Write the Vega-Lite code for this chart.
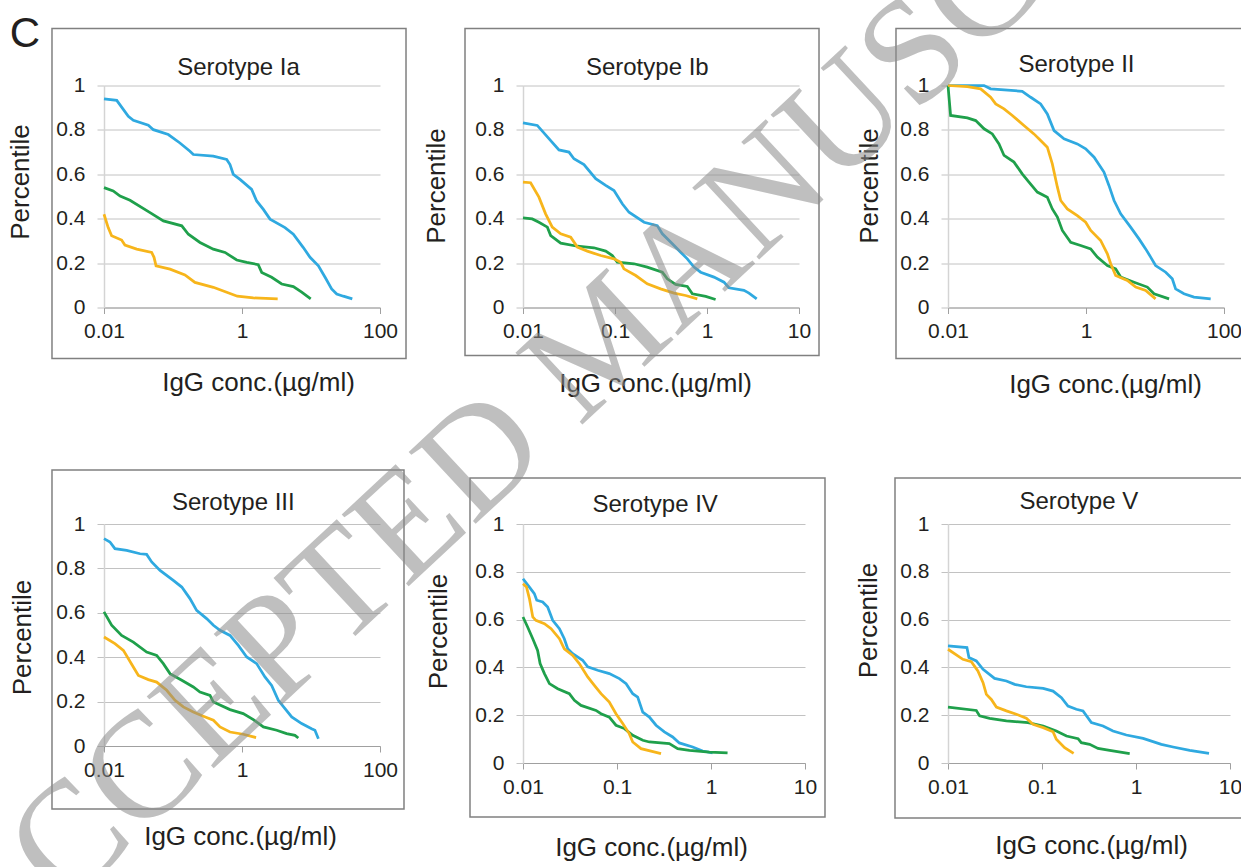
{
"$schema": "https://vega.github.io/schema/vega-lite/v6.json",
"autosize": {"type": "none"},
"padding": {"left": 104, "top": 77, "right": 1137, "bottom": 790},
"background": "white",
"datasets": {
"Ia": [
{"series":"A","conc":0.01,"pct":0.94},{"series":"A","conc":0.0153,"pct":0.933},{"series":"A","conc":0.0225,"pct":0.861},{"series":"A","conc":0.0266,"pct":0.843},{"series":"A","conc":0.0439,"pct":0.821},{"series":"A","conc":0.0519,"pct":0.801},{"series":"A","conc":0.0855,"pct":0.779},{"series":"A","conc":0.126,"pct":0.741},{"series":"A","conc":0.176,"pct":0.704},{"series":"A","conc":0.197,"pct":0.689},{"series":"A","conc":0.384,"pct":0.682},{"series":"A","conc":0.6,"pct":0.667},{"series":"A","conc":0.67,"pct":0.644},{"series":"A","conc":0.748,"pct":0.6},{"series":"A","conc":0.935,"pct":0.577},{"series":"A","conc":1.38,"pct":0.532},{"series":"A","conc":1.63,"pct":0.48},{"series":"A","conc":2.04,"pct":0.442},{"series":"A","conc":2.55,"pct":0.398},{"series":"A","conc":4.2,"pct":0.36},{"series":"A","conc":5.55,"pct":0.33},{"series":"A","conc":7.74,"pct":0.27},{"series":"A","conc":9.68,"pct":0.226},{"series":"A","conc":12.8,"pct":0.188},{"series":"A","conc":16,"pct":0.136},{"series":"A","conc":19.9,"pct":0.084},{"series":"A","conc":23.6,"pct":0.061},{"series":"A","conc":29.4,"pct":0.051},{"series":"A","conc":39.7,"pct":0.039},
{"series":"B","conc":0.01,"pct":0.54},{"series":"B","conc":0.0136,"pct":0.525},{"series":"B","conc":0.0171,"pct":0.502},{"series":"B","conc":0.0238,"pct":0.483},{"series":"B","conc":0.0465,"pct":0.427},{"series":"B","conc":0.0725,"pct":0.39},{"series":"B","conc":0.134,"pct":0.368},{"series":"B","conc":0.167,"pct":0.33},{"series":"B","conc":0.246,"pct":0.293},{"series":"B","conc":0.384,"pct":0.263},{"series":"B","conc":0.568,"pct":0.248},{"series":"B","conc":0.838,"pct":0.214},{"series":"B","conc":1.17,"pct":0.203},{"series":"B","conc":1.72,"pct":0.193},{"series":"B","conc":1.93,"pct":0.158},{"series":"B","conc":2.69,"pct":0.136},{"series":"B","conc":3.76,"pct":0.106},{"series":"B","conc":5.55,"pct":0.094},{"series":"B","conc":7.33,"pct":0.069},{"series":"B","conc":9.91,"pct":0.039},
{"series":"C","conc":0.01,"pct":0.42},{"series":"C","conc":0.0115,"pct":0.36},{"series":"C","conc":0.0129,"pct":0.323},{"series":"C","conc":0.018,"pct":0.304},{"series":"C","conc":0.0201,"pct":0.281},{"series":"C","conc":0.0298,"pct":0.263},{"series":"C","conc":0.0491,"pct":0.248},{"series":"C","conc":0.0531,"pct":0.226},{"series":"C","conc":0.0568,"pct":0.188},{"series":"C","conc":0.0906,"pct":0.173},{"series":"C","conc":0.149,"pct":0.147},{"series":"C","conc":0.208,"pct":0.113},{"series":"C","conc":0.384,"pct":0.091},{"series":"C","conc":0.6,"pct":0.069},{"series":"C","conc":0.855,"pct":0.051},{"series":"C","conc":1.46,"pct":0.043},{"series":"C","conc":3.29,"pct":0.039}
],
"Ib": [
{"series":"A","conc":0.01,"pct":0.832},{"series":"A","conc":0.0143,"pct":0.82},{"series":"A","conc":0.02,"pct":0.752},{"series":"A","conc":0.0246,"pct":0.71},{"series":"A","conc":0.0316,"pct":0.7},{"series":"A","conc":0.0358,"pct":0.67},{"series":"A","conc":0.046,"pct":0.644},{"series":"A","conc":0.0617,"pct":0.58},{"series":"A","conc":0.0792,"pct":0.55},{"series":"A","conc":0.0975,"pct":0.527},{"series":"A","conc":0.12,"pct":0.467},{"series":"A","conc":0.142,"pct":0.429},{"series":"A","conc":0.207,"pct":0.384},{"series":"A","conc":0.288,"pct":0.369},{"series":"A","conc":0.327,"pct":0.332},{"series":"A","conc":0.42,"pct":0.287},{"series":"A","conc":0.517,"pct":0.249},{"series":"A","conc":0.611,"pct":0.219},{"series":"A","conc":0.722,"pct":0.182},{"series":"A","conc":0.853,"pct":0.159},{"series":"A","conc":1.19,"pct":0.137},{"series":"A","conc":1.53,"pct":0.114},{"series":"A","conc":1.73,"pct":0.089},{"series":"A","conc":2.52,"pct":0.077},{"series":"A","conc":2.86,"pct":0.065},{"series":"A","conc":3.47,"pct":0.039},
{"series":"B","conc":0.01,"pct":0.404},{"series":"B","conc":0.0126,"pct":0.399},{"series":"B","conc":0.0149,"pct":0.384},{"series":"B","conc":0.0184,"pct":0.362},{"series":"B","conc":0.02,"pct":0.324},{"series":"B","conc":0.0257,"pct":0.29},{"series":"B","conc":0.039,"pct":0.276},{"series":"B","conc":0.059,"pct":0.269},{"series":"B","conc":0.0792,"pct":0.254},{"series":"B","conc":0.0935,"pct":0.234},{"series":"B","conc":0.106,"pct":0.204},{"series":"B","conc":0.161,"pct":0.197},{"series":"B","conc":0.224,"pct":0.182},{"series":"B","conc":0.327,"pct":0.159},{"series":"B","conc":0.37,"pct":0.129},{"series":"B","conc":0.456,"pct":0.104},{"series":"B","conc":0.611,"pct":0.095},{"series":"B","conc":0.693,"pct":0.062},{"series":"B","conc":0.968,"pct":0.05},{"series":"B","conc":1.24,"pct":0.036},
{"series":"C","conc":0.01,"pct":0.565},{"series":"C","conc":0.0121,"pct":0.562},{"series":"C","conc":0.0149,"pct":0.497},{"series":"C","conc":0.0176,"pct":0.422},{"series":"C","conc":0.0208,"pct":0.362},{"series":"C","conc":0.0257,"pct":0.332},{"series":"C","conc":0.033,"pct":0.317},{"series":"C","conc":0.039,"pct":0.272},{"series":"C","conc":0.05,"pct":0.254},{"series":"C","conc":0.0698,"pct":0.234},{"series":"C","conc":0.0975,"pct":0.219},{"series":"C","conc":0.115,"pct":0.204},{"series":"C","conc":0.125,"pct":0.174},{"series":"C","conc":0.168,"pct":0.144},{"series":"C","conc":0.224,"pct":0.107},{"series":"C","conc":0.313,"pct":0.084},{"series":"C","conc":0.438,"pct":0.065},{"series":"C","conc":0.586,"pct":0.054},{"series":"C","conc":0.785,"pct":0.039}
],
"II": [
{"series":"A","conc":0.01,"pct":1},{"series":"A","conc":0.0333,"pct":1},{"series":"A","conc":0.0415,"pct":0.985},{"series":"A","conc":0.119,"pct":0.974},{"series":"A","conc":0.158,"pct":0.947},{"series":"A","conc":0.22,"pct":0.917},{"series":"A","conc":0.275,"pct":0.872},{"series":"A","conc":0.344,"pct":0.797},{"series":"A","conc":0.48,"pct":0.76},{"series":"A","conc":0.748,"pct":0.737},{"series":"A","conc":0.989,"pct":0.715},{"series":"A","conc":1.31,"pct":0.677},{"series":"A","conc":1.82,"pct":0.61},{"series":"A","conc":2.15,"pct":0.55},{"series":"A","conc":2.55,"pct":0.482},{"series":"A","conc":3.18,"pct":0.422},{"series":"A","conc":4.43,"pct":0.362},{"series":"A","conc":5.86,"pct":0.309},{"series":"A","conc":7.32,"pct":0.264},{"series":"A","conc":8.65,"pct":0.227},{"series":"A","conc":10.2,"pct":0.189},{"series":"A","conc":14.3,"pct":0.159},{"series":"A","conc":17.8,"pct":0.129},{"series":"A","conc":19.9,"pct":0.084},{"series":"A","conc":26.3,"pct":0.062},{"series":"A","conc":36.7,"pct":0.047},{"series":"A","conc":64.1,"pct":0.039},
{"series":"B","conc":0.01,"pct":1},{"series":"B","conc":0.0109,"pct":0.865},{"series":"B","conc":0.0191,"pct":0.854},{"series":"B","conc":0.0252,"pct":0.842},{"series":"B","conc":0.0333,"pct":0.805},{"series":"B","conc":0.0439,"pct":0.782},{"series":"B","conc":0.0548,"pct":0.737},{"series":"B","conc":0.0649,"pct":0.685},{"series":"B","conc":0.0905,"pct":0.655},{"series":"B","conc":0.119,"pct":0.602},{"series":"B","conc":0.149,"pct":0.565},{"series":"B","conc":0.197,"pct":0.52},{"series":"B","conc":0.275,"pct":0.497},{"series":"B","conc":0.325,"pct":0.444},{"series":"B","conc":0.385,"pct":0.407},{"series":"B","conc":0.454,"pct":0.347},{"series":"B","conc":0.6,"pct":0.294},{"series":"B","conc":0.837,"pct":0.279},{"series":"B","conc":1.17,"pct":0.264},{"series":"B","conc":1.46,"pct":0.227},{"series":"B","conc":2.04,"pct":0.189},{"series":"B","conc":2.69,"pct":0.174},{"series":"B","conc":3.18,"pct":0.137},{"series":"B","conc":4.97,"pct":0.114},{"series":"B","conc":7.74,"pct":0.092},{"series":"B","conc":9.68,"pct":0.062},{"series":"B","conc":16,"pct":0.039},
{"series":"C","conc":0.01,"pct":1},{"series":"C","conc":0.0191,"pct":0.995},{"series":"C","conc":0.0297,"pct":0.985},{"series":"C","conc":0.0415,"pct":0.947},{"series":"C","conc":0.0491,"pct":0.917},{"series":"C","conc":0.0649,"pct":0.895},{"series":"C","conc":0.0855,"pct":0.865},{"series":"C","conc":0.126,"pct":0.82},{"series":"C","conc":0.176,"pct":0.782},{"series":"C","conc":0.22,"pct":0.752},{"series":"C","conc":0.275,"pct":0.722},{"series":"C","conc":0.325,"pct":0.647},{"series":"C","conc":0.385,"pct":0.542},{"series":"C","conc":0.43,"pct":0.482},{"series":"C","conc":0.536,"pct":0.444},{"series":"C","conc":0.748,"pct":0.414},{"series":"C","conc":0.989,"pct":0.384},{"series":"C","conc":1.17,"pct":0.347},{"series":"C","conc":1.63,"pct":0.302},{"series":"C","conc":2.04,"pct":0.242},{"series":"C","conc":2.28,"pct":0.197},{"series":"C","conc":2.69,"pct":0.144},{"series":"C","conc":3.97,"pct":0.122},{"series":"C","conc":5.25,"pct":0.092},{"series":"C","conc":7.32,"pct":0.077},{"series":"C","conc":10.2,"pct":0.039}
],
"III": [
{"series":"A","conc":0.01,"pct":0.934},{"series":"A","conc":0.0122,"pct":0.919},{"series":"A","conc":0.0144,"pct":0.889},{"series":"A","conc":0.0213,"pct":0.881},{"series":"A","conc":0.0333,"pct":0.866},{"series":"A","conc":0.0415,"pct":0.863},{"series":"A","conc":0.0491,"pct":0.829},{"series":"A","conc":0.0649,"pct":0.791},{"series":"A","conc":0.101,"pct":0.746},{"series":"A","conc":0.134,"pct":0.716},{"series":"A","conc":0.176,"pct":0.664},{"series":"A","conc":0.22,"pct":0.611},{"series":"A","conc":0.307,"pct":0.574},{"series":"A","conc":0.385,"pct":0.544},{"series":"A","conc":0.48,"pct":0.521},{"series":"A","conc":0.67,"pct":0.498},{"series":"A","conc":0.885,"pct":0.453},{"series":"A","conc":1.17,"pct":0.401},{"series":"A","conc":1.63,"pct":0.371},{"series":"A","conc":2.15,"pct":0.311},{"series":"A","conc":2.69,"pct":0.273},{"series":"A","conc":3.36,"pct":0.206},{"series":"A","conc":4.2,"pct":0.168},{"series":"A","conc":5.25,"pct":0.131},{"series":"A","conc":7.32,"pct":0.101},{"series":"A","conc":10.2,"pct":0.078},{"series":"A","conc":11.4,"pct":0.071},{"series":"A","conc":12.8,"pct":0.033},
{"series":"B","conc":0.01,"pct":0.604},{"series":"B","conc":0.0129,"pct":0.544},{"series":"B","conc":0.018,"pct":0.498},{"series":"B","conc":0.0266,"pct":0.468},{"series":"B","conc":0.0415,"pct":0.423},{"series":"B","conc":0.058,"pct":0.408},{"series":"B","conc":0.0724,"pct":0.371},{"series":"B","conc":0.0905,"pct":0.326},{"series":"B","conc":0.134,"pct":0.296},{"series":"B","conc":0.197,"pct":0.266},{"series":"B","conc":0.246,"pct":0.243},{"series":"B","conc":0.344,"pct":0.228},{"series":"B","conc":0.385,"pct":0.198},{"series":"B","conc":0.67,"pct":0.164},{"series":"B","conc":1.04,"pct":0.146},{"series":"B","conc":1.46,"pct":0.119},{"series":"B","conc":2.04,"pct":0.086},{"series":"B","conc":3.18,"pct":0.071},{"series":"B","conc":4.43,"pct":0.056},{"series":"B","conc":5.86,"pct":0.048},{"series":"B","conc":6.55,"pct":0.036},
{"series":"C","conc":0.01,"pct":0.491},{"series":"C","conc":0.0144,"pct":0.461},{"series":"C","conc":0.0191,"pct":0.431},{"series":"C","conc":0.0266,"pct":0.356},{"series":"C","conc":0.0315,"pct":0.318},{"series":"C","conc":0.0439,"pct":0.299},{"series":"C","conc":0.058,"pct":0.288},{"series":"C","conc":0.081,"pct":0.251},{"series":"C","conc":0.107,"pct":0.206},{"series":"C","conc":0.141,"pct":0.176},{"series":"C","conc":0.197,"pct":0.153},{"series":"C","conc":0.275,"pct":0.134},{"series":"C","conc":0.385,"pct":0.116},{"series":"C","conc":0.48,"pct":0.086},{"series":"C","conc":0.67,"pct":0.063},{"series":"C","conc":1.04,"pct":0.053},{"series":"C","conc":1.6,"pct":0.038}
],
"IV": [
{"series":"A","conc":0.01,"pct":0.771},{"series":"A","conc":0.0117,"pct":0.736},{"series":"A","conc":0.0132,"pct":0.709},{"series":"A","conc":0.014,"pct":0.681},{"series":"A","conc":0.0162,"pct":0.674},{"series":"A","conc":0.0183,"pct":0.653},{"series":"A","conc":0.0207,"pct":0.597},{"series":"A","conc":0.0244,"pct":0.562},{"series":"A","conc":0.0275,"pct":0.52},{"series":"A","conc":0.0299,"pct":0.478},{"series":"A","conc":0.0338,"pct":0.457},{"series":"A","conc":0.0431,"pct":0.43},{"series":"A","conc":0.0488,"pct":0.402},{"series":"A","conc":0.0622,"pct":0.388},{"series":"A","conc":0.0828,"pct":0.374},{"series":"A","conc":0.106,"pct":0.353},{"series":"A","conc":0.125,"pct":0.332},{"series":"A","conc":0.147,"pct":0.29},{"series":"A","conc":0.166,"pct":0.276},{"series":"A","conc":0.188,"pct":0.213},{"series":"A","conc":0.221,"pct":0.192},{"series":"A","conc":0.26,"pct":0.158},{"series":"A","conc":0.319,"pct":0.13},{"series":"A","conc":0.391,"pct":0.109},{"series":"A","conc":0.46,"pct":0.084},{"series":"A","conc":0.638,"pct":0.067},{"series":"A","conc":0.815,"pct":0.05},{"series":"A","conc":1.04,"pct":0.042},
{"series":"B","conc":0.01,"pct":0.611},{"series":"B","conc":0.0112,"pct":0.569},{"series":"B","conc":0.0127,"pct":0.52},{"series":"B","conc":0.0143,"pct":0.471},{"series":"B","conc":0.0152,"pct":0.416},{"series":"B","conc":0.0169,"pct":0.374},{"series":"B","conc":0.0191,"pct":0.332},{"series":"B","conc":0.0234,"pct":0.311},{"series":"B","conc":0.0311,"pct":0.29},{"series":"B","conc":0.0352,"pct":0.262},{"series":"B","conc":0.0414,"pct":0.241},{"series":"B","conc":0.0598,"pct":0.22},{"series":"B","conc":0.0676,"pct":0.206},{"series":"B","conc":0.0828,"pct":0.192},{"series":"B","conc":0.0975,"pct":0.158},{"series":"B","conc":0.12,"pct":0.144},{"series":"B","conc":0.147,"pct":0.116},{"series":"B","conc":0.188,"pct":0.095},{"series":"B","conc":0.221,"pct":0.088},{"series":"B","conc":0.36,"pct":0.081},{"series":"B","conc":0.442,"pct":0.06},{"series":"B","conc":0.589,"pct":0.053},{"series":"B","conc":0.959,"pct":0.046},{"series":"B","conc":1.5,"pct":0.042},
{"series":"C","conc":0.01,"pct":0.75},{"series":"C","conc":0.0109,"pct":0.736},{"series":"C","conc":0.0117,"pct":0.688},{"series":"C","conc":0.0127,"pct":0.611},{"series":"C","conc":0.0137,"pct":0.597},{"series":"C","conc":0.0169,"pct":0.583},{"series":"C","conc":0.0199,"pct":0.562},{"series":"C","conc":0.0244,"pct":0.52},{"series":"C","conc":0.0275,"pct":0.478},{"series":"C","conc":0.0338,"pct":0.45},{"series":"C","conc":0.0397,"pct":0.416},{"series":"C","conc":0.0488,"pct":0.36},{"series":"C","conc":0.0574,"pct":0.325},{"series":"C","conc":0.0676,"pct":0.29},{"series":"C","conc":0.0828,"pct":0.255},{"series":"C","conc":0.0975,"pct":0.206},{"series":"C","conc":0.115,"pct":0.165},{"series":"C","conc":0.135,"pct":0.123},{"series":"C","conc":0.147,"pct":0.088},{"series":"C","conc":0.18,"pct":0.06},{"series":"C","conc":0.23,"pct":0.05},{"series":"C","conc":0.294,"pct":0.039}
],
"V": [
{"series":"A","conc":0.01,"pct":0.49},{"series":"A","conc":0.0159,"pct":0.483},{"series":"A","conc":0.0167,"pct":0.441},{"series":"A","conc":0.02,"pct":0.427},{"series":"A","conc":0.0236,"pct":0.392},{"series":"A","conc":0.0313,"pct":0.354},{"series":"A","conc":0.0418,"pct":0.343},{"series":"A","conc":0.0512,"pct":0.329},{"series":"A","conc":0.0681,"pct":0.319},{"series":"A","conc":0.103,"pct":0.312},{"series":"A","conc":0.131,"pct":0.301},{"series":"A","conc":0.161,"pct":0.273},{"series":"A","conc":0.189,"pct":0.238},{"series":"A","conc":0.232,"pct":0.225},{"series":"A","conc":0.273,"pct":0.218},{"series":"A","conc":0.335,"pct":0.169},{"series":"A","conc":0.446,"pct":0.155},{"series":"A","conc":0.569,"pct":0.134},{"series":"A","conc":0.789,"pct":0.117},{"series":"A","conc":1.19,"pct":0.103},{"series":"A","conc":1.86,"pct":0.078},{"series":"A","conc":2.48,"pct":0.067},{"series":"A","conc":3.73,"pct":0.053},{"series":"A","conc":5.98,"pct":0.04},
{"series":"B","conc":0.01,"pct":0.234},{"series":"B","conc":0.02,"pct":0.22},{"series":"B","conc":0.0217,"pct":0.197},{"series":"B","conc":0.0277,"pct":0.187},{"series":"B","conc":0.0418,"pct":0.176},{"series":"B","conc":0.071,"pct":0.169},{"series":"B","conc":0.103,"pct":0.155},{"series":"B","conc":0.142,"pct":0.134},{"series":"B","conc":0.182,"pct":0.113},{"series":"B","conc":0.242,"pct":0.102},{"series":"B","conc":0.262,"pct":0.085},{"series":"B","conc":0.321,"pct":0.078},{"series":"B","conc":0.394,"pct":0.061},{"series":"B","conc":0.525,"pct":0.053},{"series":"B","conc":0.857,"pct":0.039},
{"series":"C","conc":0.01,"pct":0.476},{"series":"C","conc":0.0144,"pct":0.434},{"series":"C","conc":0.0177,"pct":0.424},{"series":"C","conc":0.0208,"pct":0.385},{"series":"C","conc":0.0236,"pct":0.336},{"series":"C","conc":0.0256,"pct":0.287},{"series":"C","conc":0.0289,"pct":0.266},{"series":"C","conc":0.0327,"pct":0.234},{"series":"C","conc":0.0418,"pct":0.218},{"series":"C","conc":0.0533,"pct":0.204},{"series":"C","conc":0.0681,"pct":0.187},{"series":"C","conc":0.0802,"pct":0.162},{"series":"C","conc":0.103,"pct":0.148},{"series":"C","conc":0.131,"pct":0.131},{"series":"C","conc":0.142,"pct":0.099},{"series":"C","conc":0.174,"pct":0.064},{"series":"C","conc":0.217,"pct":0.04}
]
},
"columns": 3,
"spacing": {"column": 143, "row": 208},
"bounds": "flush",
"align": {"row": "all", "column": "none"},
"center": {"row": true},
"concat": [
{
"width": 276, "height": 222,
"layer": [
{"data": {"name": "Ia"}, "mark": {"type": "line", "strokeWidth": 2.75},
 "encoding": {"x": {"field": "conc", "type": "quantitative", "scale": {"type": "log", "domain": [0.01, 100], "nice": false}, "axis": {"values": [0.01, 1, 100], "format": "~g", "title": "IgG conc.(µg/ml)", "titleX": 154, "titleY": 83}},
  "y": {"field": "pct", "type": "quantitative", "scale": {"domain": [0, 1], "nice": false, "zero": false}, "axis": {"values": [0, 0.2, 0.4, 0.6, 0.8, 1], "format": "~g", "title": "Percentile", "titleX": -84, "titleY": 96}},
  "color": {"field": "series", "type": "nominal", "scale": {"domain": ["A", "B", "C"], "range": ["#2fa9e0", "#1fa04b", "#f7b51b"]}, "legend": null}}},
{"data": {"values": [{}]}, "mark": {"type": "rect", "fill": "white", "fillOpacity": 0, "stroke": "#808080", "strokeWidth": 1.5, "clip": false},
 "encoding": {"x": {"datum": 0.001763, "type": "quantitative", "scale": {"type": "log", "domain": [0.01, 100], "nice": false}}, "x2": {"datum": 238.2},
  "y": {"datum": -0.2297, "type": "quantitative", "scale": {"domain": [0, 1], "nice": false, "zero": false}}, "y2": {"datum": 1.2568}}},
{"data": {"values": [{}]}, "mark": {"type": "text", "text": "Serotype Ia", "font": "Liberation Sans", "fontSize": 24, "color": "#231f20", "align": "center", "baseline": "alphabetic", "clip": false},
 "encoding": {"x": {"datum": 0.89, "type": "quantitative", "scale": {"type": "log", "domain": [0.01, 100], "nice": false}}, "y": {"datum": 1.049, "type": "quantitative", "scale": {"domain": [0, 1], "nice": false, "zero": false}}}},
{"data": {"values": [{}]}, "mark": {"type": "text", "text": "C", "font": "Liberation Sans", "fontSize": 42, "color": "#231f20", "align": "center", "baseline": "middle", "clip": false},
 "encoding": {"x": {"datum": 0.000716, "type": "quantitative", "scale": {"type": "log", "domain": [0.01, 100], "nice": false}}, "y": {"datum": 1.23, "type": "quantitative", "scale": {"domain": [0, 1], "nice": false, "zero": false}}}}
]
},
{
"width": 276, "height": 222,
"layer": [
{"data": {"name": "Ib"}, "mark": {"type": "line", "strokeWidth": 2.75},
 "encoding": {"x": {"field": "conc", "type": "quantitative", "scale": {"type": "log", "domain": [0.01, 10], "nice": false}, "axis": {"values": [0.01, 0.1, 1, 10], "format": "~g", "title": "IgG conc.(µg/ml)", "titleX": 132, "titleY": 84}},
  "y": {"field": "pct", "type": "quantitative", "scale": {"domain": [0, 1], "nice": false, "zero": false}, "axis": {"values": [0, 0.2, 0.4, 0.6, 0.8, 1], "format": "~g", "title": "Percentile", "titleX": -87, "titleY": 100}},
  "color": {"field": "series", "type": "nominal", "scale": {"domain": ["A", "B", "C"], "range": ["#2fa9e0", "#1fa04b", "#f7b51b"]}, "legend": null}}},
{"data": {"values": [{}]}, "mark": {"type": "rect", "fill": "white", "fillOpacity": 0, "stroke": "#808080", "strokeWidth": 1.5, "clip": false},
 "encoding": {"x": {"datum": 0.002342, "type": "quantitative", "scale": {"type": "log", "domain": [0.01, 10], "nice": false}}, "x2": {"datum": 16.5},
  "y": {"datum": -0.2162, "type": "quantitative", "scale": {"domain": [0, 1], "nice": false, "zero": false}}, "y2": {"datum": 1.2568}}},
{"data": {"values": [{}]}, "mark": {"type": "text", "text": "Serotype Ib", "font": "Liberation Sans", "fontSize": 24, "color": "#231f20", "align": "center", "baseline": "alphabetic", "clip": false},
 "encoding": {"x": {"datum": 0.2244, "type": "quantitative", "scale": {"type": "log", "domain": [0.01, 10], "nice": false}}, "y": {"datum": 1.0495, "type": "quantitative", "scale": {"domain": [0, 1], "nice": false, "zero": false}}}}
]
},
{
"width": 276, "height": 222,
"layer": [
{"data": {"name": "II"}, "mark": {"type": "line", "strokeWidth": 2.75},
 "encoding": {"x": {"field": "conc", "type": "quantitative", "scale": {"type": "log", "domain": [0.01, 100], "nice": false}, "axis": {"values": [0.01, 1, 100], "format": "~g", "title": "IgG conc.(µg/ml)", "titleX": 157, "titleY": 85}},
  "y": {"field": "pct", "type": "quantitative", "scale": {"domain": [0, 1], "nice": false, "zero": false}, "axis": {"values": [0, 0.2, 0.4, 0.6, 0.8, 1], "format": "~g", "title": "Percentile", "titleX": -79, "titleY": 100}},
  "color": {"field": "series", "type": "nominal", "scale": {"domain": ["A", "B", "C"], "range": ["#2fa9e0", "#1fa04b", "#f7b51b"]}, "legend": null}}},
{"data": {"values": [{}]}, "mark": {"type": "rect", "fill": "white", "fillOpacity": 0, "stroke": "#808080", "strokeWidth": 1.5, "clip": false},
 "encoding": {"x": {"datum": 0.001763, "type": "quantitative", "scale": {"type": "log", "domain": [0.01, 100], "nice": false}}, "x2": {"datum": 272},
  "y": {"datum": -0.2297, "type": "quantitative", "scale": {"domain": [0, 1], "nice": false, "zero": false}}, "y2": {"datum": 1.2568}}},
{"data": {"values": [{}]}, "mark": {"type": "text", "text": "Serotype II", "font": "Liberation Sans", "fontSize": 24, "color": "#231f20", "align": "center", "baseline": "alphabetic", "clip": false},
 "encoding": {"x": {"datum": 0.728, "type": "quantitative", "scale": {"type": "log", "domain": [0.01, 100], "nice": false}}, "y": {"datum": 1.06, "type": "quantitative", "scale": {"domain": [0, 1], "nice": false, "zero": false}}}}
]
},
{
"width": 276, "height": 222,
"layer": [
{"data": {"name": "III"}, "mark": {"type": "line", "strokeWidth": 2.75},
 "encoding": {"x": {"field": "conc", "type": "quantitative", "scale": {"type": "log", "domain": [0.01, 100], "nice": false}, "axis": {"values": [0.01, 1, 100], "format": "~g", "title": "IgG conc.(µg/ml)", "titleX": 136, "titleY": 98}},
  "y": {"field": "pct", "type": "quantitative", "scale": {"domain": [0, 1], "nice": false, "zero": false}, "axis": {"values": [0, 0.2, 0.4, 0.6, 0.8, 1], "format": "~g", "title": "Percentile", "titleX": -82, "titleY": 113}},
  "color": {"field": "series", "type": "nominal", "scale": {"domain": ["A", "B", "C"], "range": ["#2fa9e0", "#1fa04b", "#f7b51b"]}, "legend": null}}},
{"data": {"values": [{}]}, "mark": {"type": "rect", "fill": "white", "fillOpacity": 0, "stroke": "#808080", "strokeWidth": 1.5, "clip": false},
 "encoding": {"x": {"datum": 0.001763, "type": "quantitative", "scale": {"type": "log", "domain": [0.01, 100], "nice": false}}, "x2": {"datum": 222.7},
  "y": {"datum": -0.2838, "type": "quantitative", "scale": {"domain": [0, 1], "nice": false, "zero": false}}, "y2": {"datum": 1.2432}}},
{"data": {"values": [{}]}, "mark": {"type": "text", "text": "Serotype III", "font": "Liberation Sans", "fontSize": 24, "color": "#231f20", "align": "center", "baseline": "alphabetic", "clip": false},
 "encoding": {"x": {"datum": 0.748, "type": "quantitative", "scale": {"type": "log", "domain": [0.01, 100], "nice": false}}, "y": {"datum": 1.064, "type": "quantitative", "scale": {"domain": [0, 1], "nice": false, "zero": false}}}}
]
},
{
"width": 282, "height": 239,
"layer": [
{"data": {"name": "IV"}, "mark": {"type": "line", "strokeWidth": 2.75},
 "encoding": {"x": {"field": "conc", "type": "quantitative", "scale": {"type": "log", "domain": [0.01, 10], "nice": false}, "axis": {"values": [0.01, 0.1, 1, 10], "format": "~g", "title": "IgG conc.(µg/ml)", "titleX": 128, "titleY": 92}},
  "y": {"field": "pct", "type": "quantitative", "scale": {"domain": [0, 1], "nice": false, "zero": false}, "axis": {"values": [0, 0.2, 0.4, 0.6, 0.8, 1], "format": "~g", "title": "Percentile", "titleX": -85, "titleY": 107}},
  "color": {"field": "series", "type": "nominal", "scale": {"domain": ["A", "B", "C"], "range": ["#2fa9e0", "#1fa04b", "#f7b51b"]}, "legend": null}}},
{"data": {"values": [{}]}, "mark": {"type": "rect", "fill": "white", "fillOpacity": 0, "stroke": "#808080", "strokeWidth": 1.5, "clip": false},
 "encoding": {"x": {"datum": 0.00273, "type": "quantitative", "scale": {"type": "log", "domain": [0.01, 10], "nice": false}}, "x2": {"datum": 16.32},
  "y": {"datum": -0.2259, "type": "quantitative", "scale": {"domain": [0, 1], "nice": false, "zero": false}}, "y2": {"datum": 1.1925}}},
{"data": {"values": [{}]}, "mark": {"type": "text", "text": "Serotype IV", "font": "Liberation Sans", "fontSize": 24, "color": "#231f20", "align": "center", "baseline": "alphabetic", "clip": false},
 "encoding": {"x": {"datum": 0.2547, "type": "quantitative", "scale": {"type": "log", "domain": [0.01, 10], "nice": false}}, "y": {"datum": 1.05, "type": "quantitative", "scale": {"domain": [0, 1], "nice": false, "zero": false}}}}
]
},
{
"width": 282, "height": 239,
"layer": [
{"data": {"name": "V"}, "mark": {"type": "line", "strokeWidth": 2.75},
 "encoding": {"x": {"field": "conc", "type": "quantitative", "scale": {"type": "log", "domain": [0.01, 10], "nice": false}, "axis": {"values": [0.01, 0.1, 1, 10], "format": "~g", "title": "IgG conc.(µg/ml)", "titleX": 143, "titleY": 90}},
  "y": {"field": "pct", "type": "quantitative", "scale": {"domain": [0, 1], "nice": false, "zero": false}, "axis": {"values": [0, 0.2, 0.4, 0.6, 0.8, 1], "format": "~g", "title": "Percentile", "titleX": -80, "titleY": 96}},
  "color": {"field": "series", "type": "nominal", "scale": {"domain": ["A", "B", "C"], "range": ["#2fa9e0", "#1fa04b", "#f7b51b"]}, "legend": null}}},
{"data": {"values": [{}]}, "mark": {"type": "rect", "fill": "white", "fillOpacity": 0, "stroke": "#808080", "strokeWidth": 1.5, "clip": false},
 "encoding": {"x": {"datum": 0.00273, "type": "quantitative", "scale": {"type": "log", "domain": [0.01, 10], "nice": false}}, "x2": {"datum": 17.57},
  "y": {"datum": -0.2301, "type": "quantitative", "scale": {"domain": [0, 1], "nice": false, "zero": false}}, "y2": {"datum": 1.1925}}},
{"data": {"values": [{}]}, "mark": {"type": "text", "text": "Serotype V", "font": "Liberation Sans", "fontSize": 24, "color": "#231f20", "align": "center", "baseline": "alphabetic", "clip": false},
 "encoding": {"x": {"datum": 0.2466, "type": "quantitative", "scale": {"type": "log", "domain": [0.01, 10], "nice": false}}, "y": {"datum": 1.0615, "type": "quantitative", "scale": {"domain": [0, 1], "nice": false, "zero": false}}}},
{"data": {"values": [{}]}, "mark": {"type": "text", "text": "ACCEPTED MANUSCRIPT", "font": "Liberation Serif", "fontSize": 150, "angle": -43, "color": "#8c8c8c", "opacity": 0.55, "align": "center", "baseline": "middle", "clip": false},
 "encoding": {"x": {"datum": 2.244e-6, "type": "quantitative", "scale": {"type": "log", "domain": [0.01, 10], "nice": false}}, "y": {"datum": 1.762, "type": "quantitative", "scale": {"domain": [0, 1], "nice": false, "zero": false}}}}
]
}
],
"config": {
"font": "Liberation Sans",
"view": {"stroke": null},
"axis": {"labelFont": "Liberation Sans", "labelFontSize": 21, "labelColor": "#231f20", "titleFont": "Liberation Sans", "titleFontSize": 26, "titleFontWeight": "normal", "titleColor": "#231f20", "labelFlush": false, "labelOverlap": false},
"axisX": {"grid": false, "domainColor": "#a0a0a0", "domainWidth": 1, "tickColor": "#a0a0a0", "tickSize": 6, "labelPadding": 7, "titleBaseline": "alphabetic", "titleAlign": "center"},
"axisY": {"grid": true, "gridColor": "#c2c2c2", "gridWidth": 1, "domainColor": "#d4d4d4", "domainWidth": 1.5, "tickColor": "#c2c2c2", "tickSize": 7, "labelPadding": 12, "titleAngle": -90, "titleAlign": "center", "titleBaseline": "middle"}
}
}
